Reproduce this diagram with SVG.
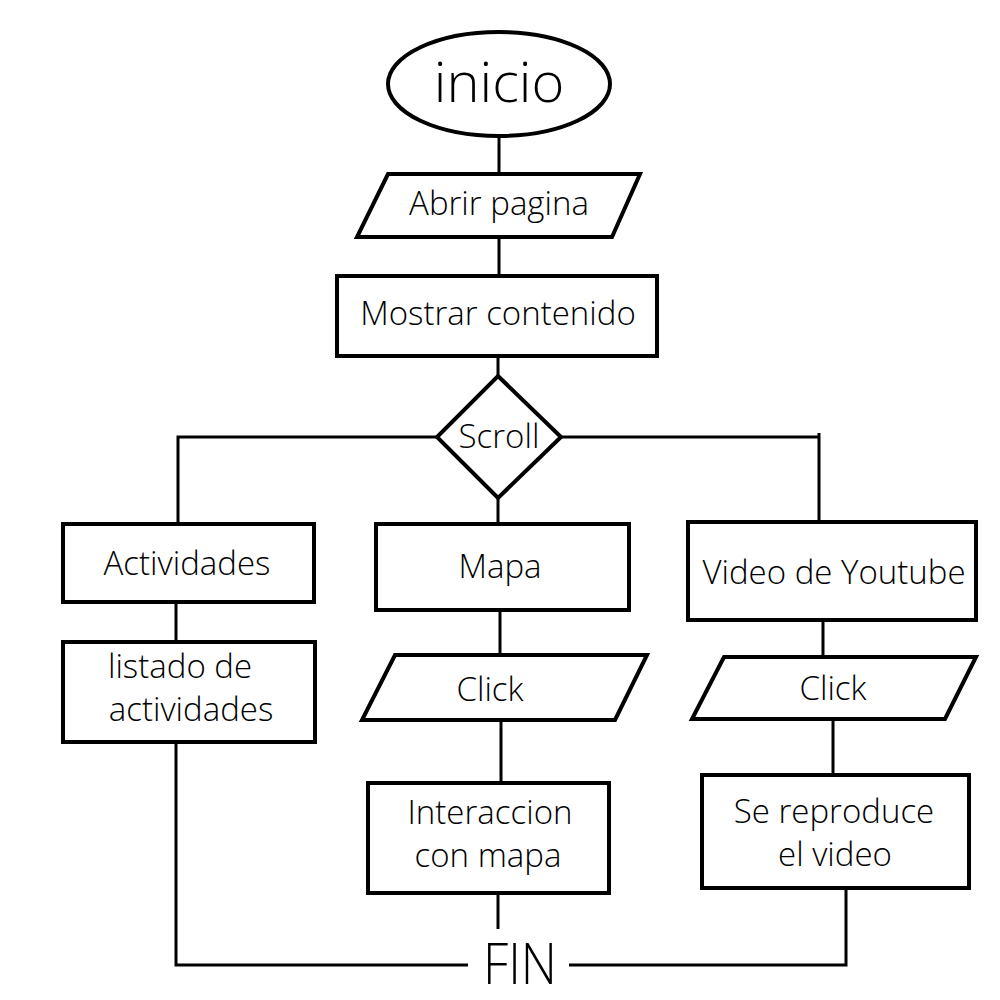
<svg xmlns="http://www.w3.org/2000/svg" width="1000" height="1000" viewBox="0 0 1000 1000">
<style>
.shape{fill:#fff;stroke:#000;stroke-width:4}
.conn{fill:none;stroke:#000;stroke-width:3}
text{font-family:"Open Sans","Noto Sans","DejaVu Sans",sans-serif;font-size:33px;font-weight:300;fill:#000;text-anchor:middle}
</style>
<rect width="1000" height="1000" fill="#fff"/>
<g id="connectors">
<path class="conn" d="M499,137 V174"/>
<path class="conn" d="M499,237 V276"/>
<path class="conn" d="M498,356 V376"/>
<path class="conn" d="M437,437 H178 V524"/>
<path class="conn" d="M562,437 H820 M819,433 V522"/>
<path class="conn" d="M498,498 V524"/>
<path class="conn" d="M176,602 V642"/>
<path class="conn" d="M500,610 V655"/>
<path class="conn" d="M501,720 V783"/>
<path class="conn" d="M823,620 V657"/>
<path class="conn" d="M833,719 V775"/>
<path class="conn" d="M176,742 V965 H468"/>
<path class="conn" d="M569,965 H846 V888"/>
<path class="conn" d="M498,893 V929"/>
</g>
<g id="inicio">
<ellipse class="shape" cx="499" cy="84" rx="111" ry="52"/>
<text x="499" y="102" style="font-size:56px">inicio</text>
</g>
<g id="abrir">
<polygon class="shape" points="388,174 640,174 612,237 357,237"/>
<text x="499" y="215">Abrir pagina</text>
</g>
<g id="mostrar">
<rect class="shape" x="337" y="276" width="320" height="80"/>
<text x="498" y="325">Mostrar contenido</text>
</g>
<g id="scroll">
<polygon class="shape" points="498,376 561,437 498,498 437,437"/>
<text x="499" y="448">Scroll</text>
</g>
<g id="actividades">
<rect class="shape" x="63" y="524" width="251" height="78"/>
<text x="187" y="575">Actividades</text>
</g>
<g id="listado">
<rect class="shape" x="63" y="642" width="252" height="100"/>
<text x="180" y="678">listado de</text>
<text x="191" y="721">actividades</text>
</g>
<g id="mapa">
<rect class="shape" x="376" y="524" width="253" height="86"/>
<text x="500" y="578">Mapa</text>
</g>
<g id="click1">
<polygon class="shape" points="395,655 647,655 615,720 362,720"/>
<text x="490" y="701">Click</text>
</g>
<g id="interaccion">
<rect class="shape" x="368" y="783" width="241" height="110"/>
<text x="490" y="824">Interaccion</text>
<text x="488" y="867">con mapa</text>
</g>
<g id="video">
<rect class="shape" x="688" y="522" width="288" height="98"/>
<text x="834" y="584">Video de Youtube</text>
</g>
<g id="click2">
<polygon class="shape" points="724,657 976,657 945,719 692,719"/>
<text x="833" y="700">Click</text>
</g>
<g id="reproduce">
<rect class="shape" x="702" y="775" width="267" height="113"/>
<text x="834" y="823">Se reproduce</text>
<text x="835" y="866">el video</text>
</g>
<g id="fin">
<text x="520" y="984" style="font-size:57px" textLength="74" lengthAdjust="spacingAndGlyphs">FIN</text>
</g>
</svg>
